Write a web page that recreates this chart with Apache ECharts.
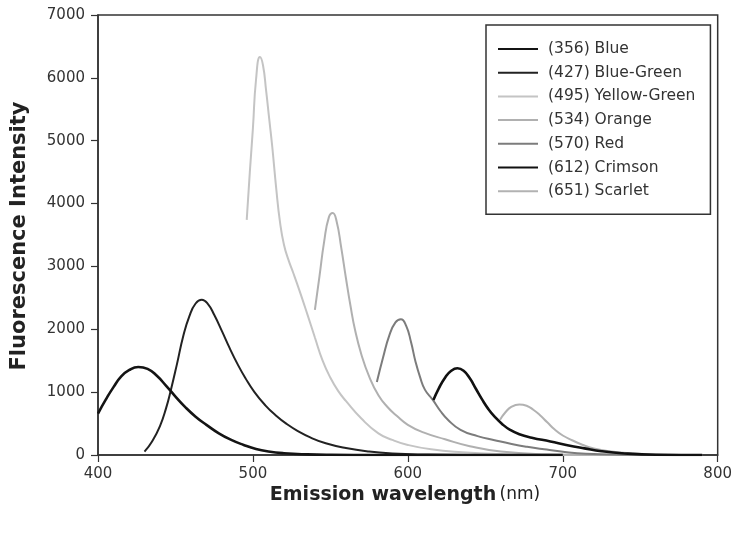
<!DOCTYPE html>
<html>
<head>
<meta charset="utf-8">
<script src="https://cdn.jsdelivr.net/npm/echarts@6/dist/echarts.min.js"></script>
<style>html,body{margin:0;padding:0;background:#fff}#c{width:735px;height:534px}</style>
</head>
<body>
<div id="c"></div>
<script>
const seriesNames = ['(356) Blue','(427) Blue-Green','(495) Yellow-Green','(534) Orange','(570) Red','(612) Crimson','(651) Scarlet'];
const xTicks = [400, 500, 600, 700, 800];
const yTicks = [0, 1000, 2000, 3000, 4000, 5000, 6000, 7000];

const blue = [[400,660],[405,880],[410,1080],[415,1250],[420,1350],[426,1400],[432,1370],[438,1260],[444,1100],[450,930],[456,770],[463,610],[470,480],[478,345],[486,240],[494,160],[502,95],[510,55],[520,28],[535,10],[550,3],[580,0],[700,0]];
const blueGreen = [[430,53],[435,220],[440,460],[444,750],[447,1030],[451,1450],[455,1890],[459,2210],[463,2410],[467,2470],[471,2400],[475,2230],[480,1970],[485,1700],[490,1450],[495,1230],[501,1000],[508,790],[515,625],[522,490],[529,380],[537,280],[547,186],[560,110],[575,55],[590,25],[610,8],[640,0],[780,0]];
const yellowGreen = [[496,3740],[498,4500],[500,5200],[502,5970],[504.5,6330],[506.5,6200],[508.5,5800],[510.5,5350],[512.5,4900],[515,4250],[517.5,3700],[520,3350],[523,3100],[526,2900],[530,2620],[535,2250],[540,1870],[545,1500],[550,1230],[555,1020],[560,860],[570,580],[581,345],[590,240],[600,160],[615,90],[635,45],[660,15],[690,0],[780,0]];
const orange = [[540,2310],[543,2850],[546,3400],[549,3780],[551.5,3850],[554,3720],[557,3300],[560,2820],[563,2370],[566,1980],[570,1600],[575,1250],[581,950],[587,760],[593,620],[600,480],[610,360],[624,250],[640,140],[660,55],[690,12],[720,0],[780,0]];
const red = [[580,1160],[584,1550],[588,1900],[592,2110],[595.5,2160],[599,2050],[602,1800],[605,1480],[608,1230],[611,1040],[616,880],[621,700],[626,557],[634,400],[645,300],[656,235],[667,175],[677,130],[688,90],[699,55],[715,20],[740,5],[780,0]];
const crimson = [[616.5,875],[620,1060],[624,1230],[628,1340],[632,1380],[636,1340],[640,1220],[644,1050],[648,880],[652,730],[656,610],[661,490],[666,400],[672,330],[680,275],[692,215],[703,155],[714,105],[725,60],[740,25],[760,5],[790,0]];
const scarlet = [[659.5,560],[663,680],[667,770],[672,805],[677,780],[681,720],[685,640],[690,520],[695,400],[700,310],[706,235],[713,160],[720,105],[730,60],[745,25],[765,5],[790,0]];

const allData = [blue, blueGreen, yellowGreen, orange, red, crimson, scarlet];
const colors = ['#141414','#222222','#c4c4c4','#b0b0b0','#7c7c7c','#111111','#b2b2b2'];
const widths = [2.6, 2, 2, 2, 2, 2.6, 2];

const chart = echarts.init(document.getElementById('c'), null, {renderer:'canvas'});
const font = 'DejaVu Sans, Arial, sans-serif';
chart.setOption({
  animation: false,
  backgroundColor: '#fff',
  textStyle: {fontFamily: font},
  grid: {left: 98, right: 14, top: 15, bottom: 79, show: true, borderColor: '#333', borderWidth: 1.5, backgroundColor: 'transparent'},
  xAxis: {
    type: 'value', min: xTicks[0], max: xTicks[xTicks.length-1], interval: 100,
    axisLine: {show: true, lineStyle: {color: '#333', width: 1.5}},
    axisTick: {show: true, inside: false, length: 7, lineStyle: {color: '#333', width: 1.2}},
    axisLabel: {fontSize: 15, color: '#333', margin: 12, fontFamily: font, formatter: v => String(v)},
    splitLine: {show: false}
  },
  yAxis: {
    type: 'value', min: yTicks[0], max: yTicks[yTicks.length-1], interval: 1000,
    axisLine: {show: true, lineStyle: {color: '#333', width: 1.5}},
    axisTick: {show: true, inside: false, length: 7, lineStyle: {color: '#333', width: 1.2}},
    axisLabel: {fontSize: 15, color: '#333', margin: 13, fontFamily: font, formatter: v => String(v)},
    splitLine: {show: false}
  },
  legend: {
    orient: 'vertical', left: 486, top: 25,
    data: seriesNames,
    itemWidth: 40, itemHeight: 14, itemGap: 7.7,
    padding: [16, 15, 15, 11],
    itemStyle: {opacity: 0},
    backgroundColor: '#fff', borderColor: '#333', borderWidth: 1.5, borderRadius: 0,
    textStyle: {fontSize: 15.5, color: '#333', fontFamily: font, padding: [0,0,0,5]}
  },
  graphic: [
    {type: 'text', x: 405, y: 495, style: {
      text: '{b|Emission wavelength} {n|(nm)}', align: 'center', verticalAlign: 'middle',
      rich: {b: {fontSize: 19, fontWeight: 'bold', fill: '#222', fontFamily: font}, n: {fontSize: 17, fill: '#222', fontFamily: font}}
    }},
    {type: 'text', x: 20, y: 236, rotation: Math.PI/2, style: {
      text: 'Fluorescence Intensity', fontSize: 21, fontWeight: 'bold', fill: '#222', fontFamily: font,
      align: 'center', verticalAlign: 'middle'
    }}
  ],
  series: allData.map((d, i) => ({
    name: seriesNames[i], type: 'line', data: d, smooth: 0.5,
    symbol: 'none', showSymbol: false,
    lineStyle: {color: colors[i], width: widths[i]},
    itemStyle: {color: colors[i]}, z: 2 + (i===0||i===5 ? 1 : 0)
  }))
});
</script>
</body>
</html>
